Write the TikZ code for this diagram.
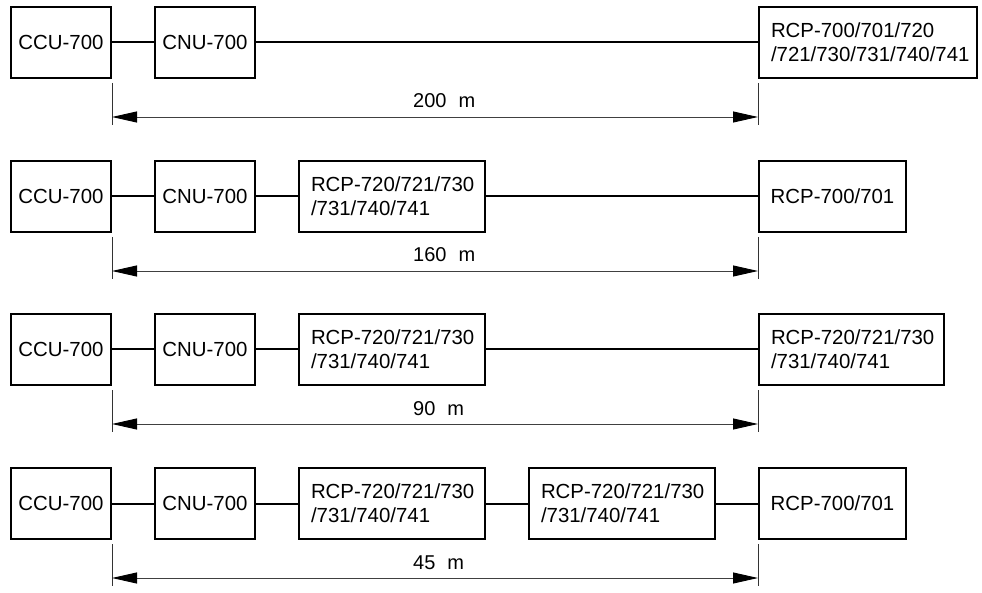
\documentclass[tikz,border=0pt]{standalone}
\usepackage{fontspec}
\setmainfont{Liberation Sans}
\usetikzlibrary{arrows.meta}
\begin{document}
\begin{tikzpicture}[x=1pt,y=-1pt,
  unit/.style={draw, line width=2pt, minimum height=71pt, inner sep=0pt, anchor=north west, font=\fontsize{20.4}{24}\selectfont},
  cbox/.style={unit, minimum width=#1},
  lbox/.style={unit, inner xsep=12pt, align=left, text width=#1},
  link/.style={line width=2pt},
  tickln/.style={line width=0.9pt, draw=black!80},
  dimln/.style={line width=0.9pt, draw=black!75, {Triangle[length=25pt,width=11pt,color=black]}-{Triangle[length=25pt,width=11pt,color=black]}},
  dimlabel/.style={anchor=base west, font=\fontsize{20}{24}\selectfont, inner sep=0pt}]
\useasboundingbox (0,0) rectangle (982,593);

% Row 1
\node[cbox=100pt] (a1) at (10,6) {CCU-700};
\node[cbox=100pt] (b1) at (154,6) {CNU-700};
\node[lbox=194pt, minimum width=218pt] (e1) at (758,6) {\mbox{RCP-700/701/720}\\\mbox{/721/730/731/740/741}};
\draw[link] (a1) -- (b1);
\draw[link] (b1) -- (e1);
\draw[tickln] ([yshift=-4pt]a1.south east) -- ++(0,42);
\draw[tickln] ([yshift=-4pt]e1.south west) -- ++(0,42);
\draw[dimln] ([yshift=-38pt]a1.south east) -- ([yshift=-38pt]e1.south west);
\node[dimlabel] (l1) at (413,108) {200\hspace{0.6em}m};

% Row 2
\node[cbox=100pt] (a2) at (10,160) {CCU-700};
\node[cbox=100pt] (b2) at (154,160) {CNU-700};
\node[lbox=162pt, minimum width=186pt] (c2) at (298,160) {\mbox{RCP-720/721/730}\\\mbox{/731/740/741}};
\node[cbox=147pt] (e2) at (758,160) {RCP-700/701};
\draw[link] (a2) -- (b2);
\draw[link] (b2) -- (c2);
\draw[link] (c2) -- (e2);
\draw[tickln] ([yshift=-4pt]a2.south east) -- ++(0,42);
\draw[tickln] ([yshift=-4pt]e2.south west) -- ++(0,42);
\draw[dimln] ([yshift=-38pt]a2.south east) -- ([yshift=-38pt]e2.south west);
\node[dimlabel] (l2) at (413,262) {160\hspace{0.6em}m};

% Row 3
\node[cbox=100pt] (a3) at (10,313) {CCU-700};
\node[cbox=100pt] (b3) at (154,313) {CNU-700};
\node[lbox=162pt, minimum width=186pt] (c3) at (298,313) {\mbox{RCP-720/721/730}\\\mbox{/731/740/741}};
\node[lbox=161pt, minimum width=185pt] (e3) at (758,313) {\mbox{RCP-720/721/730}\\\mbox{/731/740/741}};
\draw[link] (a3) -- (b3);
\draw[link] (b3) -- (c3);
\draw[link] (c3) -- (e3);
\draw[tickln] ([yshift=-4pt]a3.south east) -- ++(0,42);
\draw[tickln] ([yshift=-4pt]e3.south west) -- ++(0,42);
\draw[dimln] ([yshift=-38pt]a3.south east) -- ([yshift=-38pt]e3.south west);
\node[dimlabel] (l3) at (413,415) {90\hspace{0.6em}m};

% Row 4
\node[cbox=100pt] (a4) at (10,467) {CCU-700};
\node[cbox=100pt] (b4) at (154,467) {CNU-700};
\node[lbox=162pt, minimum width=186pt] (c4) at (298,467) {\mbox{RCP-720/721/730}\\\mbox{/731/740/741}};
\node[lbox=162pt, minimum width=186pt] (d4) at (528,467) {\mbox{RCP-720/721/730}\\\mbox{/731/740/741}};
\node[cbox=147pt] (e4) at (758,467) {RCP-700/701};
\draw[link] (a4) -- (b4);
\draw[link] (b4) -- (c4);
\draw[link] (c4) -- (d4);
\draw[link] (d4) -- (e4);
\draw[tickln] ([yshift=-4pt]a4.south east) -- ++(0,42);
\draw[tickln] ([yshift=-4pt]e4.south west) -- ++(0,42);
\draw[dimln] ([yshift=-38pt]a4.south east) -- ([yshift=-38pt]e4.south west);
\node[dimlabel] (l4) at (413,569) {45\hspace{0.6em}m};
\end{tikzpicture}
\end{document}
